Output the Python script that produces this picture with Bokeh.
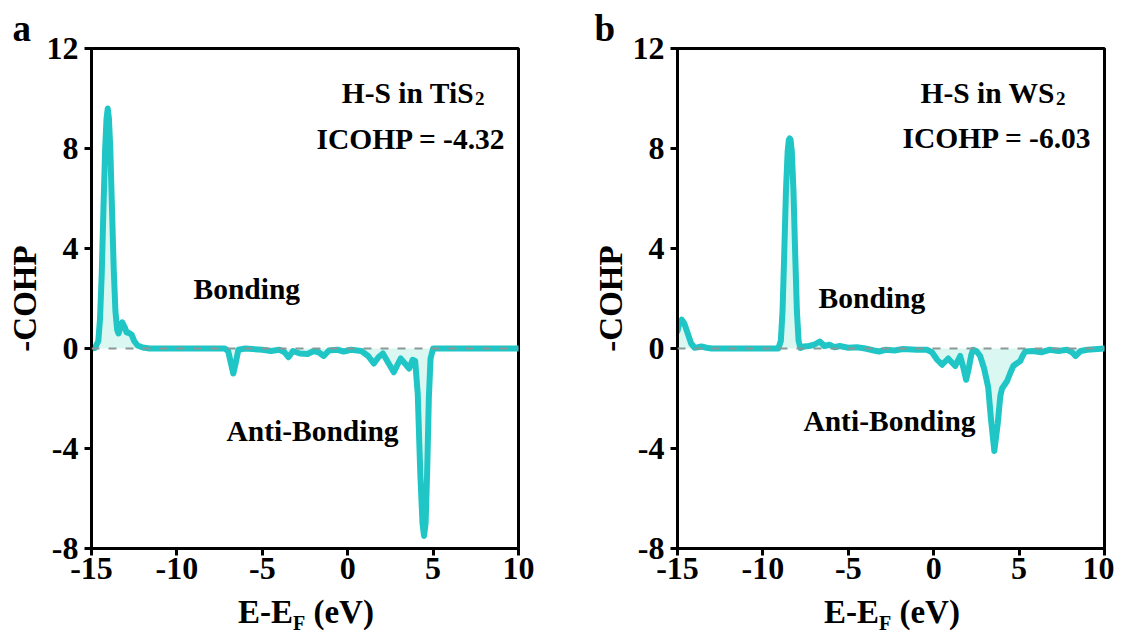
from bokeh.plotting import figure
from bokeh.layouts import row, column
from bokeh.models import Span, Label, FixedTicker, Div
from bokeh.embed import file_html
from bokeh.resources import INLINE

# ---------------- data ----------------
x_ticks = [-15, -10, -5, 0, 5, 10]
y_ticks = [-8, -4, 0, 4, 8, 12]
x_tick_labels = ["-15", "-10", "-5", "0", "5", "10"]
y_tick_labels = ["-8", "-4", "0", "4", "8", "12"]

# panel a: H-S in TiS2
energy_a = [-15.0, -14.8, -14.6, -14.5, -14.4, -14.3, -14.2, -14.12, -14.05, -13.98,
            -13.9, -13.8, -13.7, -13.6, -13.5, -13.42, -13.3, -13.2, -13.05, -12.95,
            -12.8, -12.65, -12.5, -12.3, -12.0, -11.6, -7.2, -7.0, -6.85, -6.7,
            -6.55, -6.4, -6.0, -5.0, -4.5, -4.0, -3.7, -3.47, -3.2, -2.8,
            -2.35, -2.0, -1.7, -1.4, -1.1, -0.6, -0.24, 0.2, 0.8, 1.2,
            1.53, 1.8, 2.06, 2.4, 2.7, 2.95, 3.1, 3.35, 3.6, 3.8,
            3.95, 4.1, 4.25, 4.38, 4.47, 4.56, 4.65, 4.75, 4.85, 5.0,
            10.0]
cohp_a = [0.0, 0.02, 0.3, 1.2, 3.0, 5.6, 8.0, 9.2, 9.6, 9.2,
          8.0, 5.6, 3.2, 1.5, 0.75, 0.6, 0.85, 1.05, 0.85, 0.65,
          0.62, 0.55, 0.3, 0.12, 0.04, 0.0, 0.0, -0.1, -0.55, -1.0,
          -0.55, -0.05, 0.0, -0.05, -0.1, -0.05, -0.15, -0.35, -0.1, -0.2,
          -0.22, -0.1, -0.15, -0.3, -0.08, -0.05, -0.12, -0.05, -0.1, -0.3,
          -0.6, -0.35, -0.2, -0.6, -0.95, -0.6, -0.4, -0.6, -0.8, -0.45,
          -0.5, -1.8, -5.0, -7.0, -7.5, -7.0, -5.0, -2.0, -0.4, 0.0,
          0.0]

# panel b: H-S in WS2
energy_b = [-15.0, -14.9, -14.75, -14.6, -14.4, -14.2, -14.0, -13.8, -13.6, -13.3,
            -13.0, -9.1, -8.95, -8.85, -8.75, -8.65, -8.55, -8.48, -8.43, -8.38,
            -8.31, -8.21, -8.11, -8.01, -7.91, -7.8, -7.6, -7.3, -7.0, -6.67,
            -6.4, -6.1, -5.8, -5.5, -5.0, -4.5, -4.0, -3.5, -3.2, -2.8,
            -2.3, -1.8, -1.0, -0.4, -0.1, 0.2, 0.49, 0.85, 1.05, 1.26,
            1.4, 1.55, 1.75, 1.9, 2.05, 2.2, 2.31, 2.5, 2.72, 2.95,
            3.19, 3.35, 3.55, 3.75, 3.9, 4.0, 4.15, 4.3, 4.5, 4.66,
            4.85, 5.07, 5.2, 5.36, 5.8, 6.3, 6.8, 7.3, 7.8, 8.1,
            8.3, 8.6, 9.0, 10.0]
cohp_b = [0.7, 1.0, 1.15, 1.0, 0.6, 0.2, 0.03, 0.05, 0.08, 0.03,
          0.0, 0.0, 0.3, 1.5, 3.8, 6.3, 7.9, 8.35, 8.4, 8.35,
          7.9, 6.3, 3.8, 1.5, 0.3, 0.02, 0.08, 0.1, 0.15, 0.28,
          0.1, 0.15, 0.05, 0.1, 0.03, 0.05, 0.0, -0.08, -0.12, -0.05,
          -0.08, -0.02, -0.05, -0.05, -0.15, -0.45, -0.65, -0.4, -0.55, -0.7,
          -0.5, -0.3, -0.8, -1.25, -0.8, -0.25, -0.05, -0.1, -0.3, -0.8,
          -1.55, -2.8, -4.1, -3.0, -1.9, -1.6, -1.45, -1.3, -0.95, -0.7,
          -0.6, -0.5, -0.3, -0.12, -0.1, -0.15, -0.05, -0.1, -0.05, -0.15,
          -0.3, -0.1, -0.05, 0.0]

LINE = "#20c5c5"
FILL = "#d6f7f0"
FONT = "Liberation Serif"
ANN = "29.5px"


def txt(p, x, y, text, size, align="left", xo=0, yo=0):
    p.add_layout(Label(x=x, y=y, text=text, text_font=FONT, text_font_size=size,
                       text_font_style="bold", text_color="black", text_align=align,
                       text_baseline="alphabetic", x_offset=xo, y_offset=yo))


def make_fig(energy, cohp, letter, border_left, border_right, letter_offset):
    p = figure(frame_width=427, frame_height=500, x_range=(-15, 10), y_range=(-8, 12),
               output_backend="svg", toolbar_location=None,
               min_border_left=border_left, min_border_right=border_right,
               min_border_top=48, min_border_bottom=48, title=letter)
    p.title.text_font = FONT
    p.title.text_font_size = "37px"
    p.title.text_font_style = "bold"
    p.title.text_color = "black"
    p.title.align = "left"
    p.title.offset = letter_offset
    p.title.standoff = 0
    p.varea(x=energy, y1=[0.0] * len(energy), y2=cohp, fill_color=FILL, fill_alpha=0.9)
    p.line(energy, cohp, line_color=LINE, line_width=6, line_join="round", line_cap="round")
    p.add_layout(Span(location=0, dimension="width", line_color="#8a9898",
                      line_width=2, line_dash="8 9"))
    p.xgrid.visible = False
    p.ygrid.visible = False
    p.outline_line_color = "black"
    p.outline_line_width = 3
    p.outline_line_alpha = 1.0
    p.background_fill_color = "white"
    p.border_fill_color = "white"
    p.xaxis.ticker = FixedTicker(ticks=x_ticks)
    p.yaxis.ticker = FixedTicker(ticks=y_ticks)
    p.xaxis.major_label_overrides = dict(zip(x_ticks, x_tick_labels))
    p.yaxis.major_label_overrides = dict(zip(y_ticks, y_tick_labels))
    for ax in (p.xaxis[0], p.yaxis[0]):
        ax.axis_line_width = 3
        ax.axis_line_color = "black"
        ax.major_tick_line_width = 3
        ax.major_tick_line_color = "black"
        ax.major_tick_out = 7
        ax.major_tick_in = 0
        ax.minor_tick_line_color = None
        ax.major_label_text_font = FONT
        ax.major_label_text_font_size = "32px"
        ax.major_label_text_font_style = "bold"
        ax.major_label_text_color = "black"
    p.xaxis.major_label_standoff = 2
    p.yaxis.major_label_standoff = 6
    p.yaxis.axis_label = "-COHP"
    p.yaxis.axis_label_text_font = FONT
    p.yaxis.axis_label_text_font_size = "33px"
    p.yaxis.axis_label_text_font_style = "bold"
    p.yaxis.axis_label_text_color = "black"
    p.yaxis.axis_label_standoff = 1
    return p


def xlabel_div(width, left):
    html = ('<div style="white-space:nowrap;font-family:\'Liberation Serif\';font-weight:bold;'
            'font-size:33px;line-height:32px;color:black;padding-left:%dpx;">'
            'E-E<span style="font-size:20px;position:relative;top:7px;">F</span> (eV)</div>' % left)
    return Div(text=html, width=width, height=40, margin=0)


p1 = make_fig(energy_a, cohp_a, "a", 91, 20, -79)
txt(p1, 7.4, 10.24, "H-S in TiS", ANN, align="right")
txt(p1, 7.4, 10.24, "2", "19px", align="left", xo=1, yo=-6)
txt(p1, -1.83, 8.4, "ICOHP = -4.32", ANN)
txt(p1, -9.03, 2.4, "Bonding", ANN)
txt(p1, -7.1, -3.28, "Anti-Bonding", ANN)

p2 = make_fig(energy_b, cohp_b, "b", 139, 10, -83)
txt(p2, 7.1, 10.24, "H-S in WS", ANN, align="right")
txt(p2, 7.1, 10.24, "2", "19px", align="left", xo=1, yo=-6)
txt(p2, -1.83, 8.44, "ICOHP = -6.03", ANN)
txt(p2, -6.74, 2.04, "Bonding", ANN)
txt(p2, 2.45, -2.88, "Anti-Bonding", ANN, align="right")

d1 = xlabel_div(538, 238)
d2 = xlabel_div(576, 286)

layout = column(row(p1, p2), row(d1, d2))
open("out.html", "w").write(file_html(layout, INLINE))
